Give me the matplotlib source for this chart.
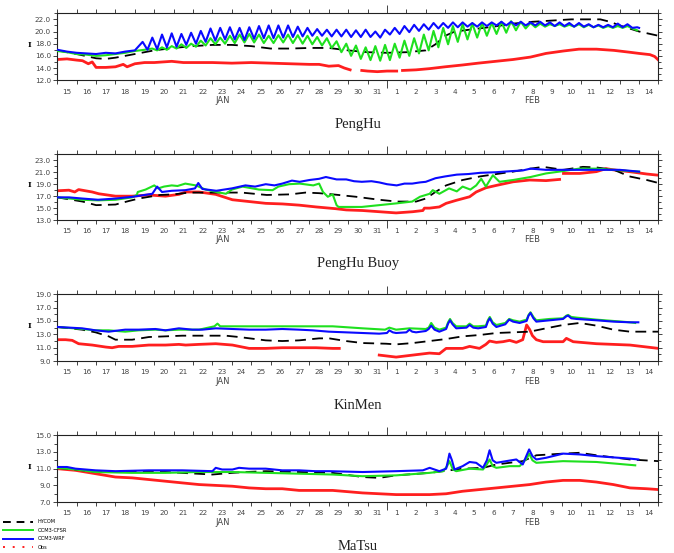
#!/usr/bin/env python3
"""Four-station SST comparison: HYCOM, OCM3-CFSR, OCM3-WRF and observations."""

import numpy as np
import matplotlib
matplotlib.use("Agg")
import matplotlib.pyplot as plt
from matplotlib.lines import Line2D

# x axis: days since 15 Jan 00:00 (15 Jan .. 14 Feb)
DAY_LABELS = [str(d) for d in range(15, 32)] + [str(d) for d in range(1, 15)]
MONTHS = ["JAN", "FEB"]
MONTH_POS = [8.5, 24.5]
STATIONS = ["PengHu", "PengHu Buoy", "KinMen", "MaTsu"]
YLIMS = [(12, 23), (13, 24), (9, 19), (7, 15)]
YTICKS = [np.arange(12, 23, 2.0), np.arange(13, 24, 2.0),
          np.arange(9, 20, 2.0), np.arange(7, 16, 2.0)]

# ---------------- PengHu ----------------
p1_hycom_t = [0, 1, 2, 2.5, 3, 4, 5, 6, 7, 8, 9, 10, 11, 12, 13, 14, 15, 16, 17, 18, 19,
              19.5, 20, 20.5, 21.5, 22.5, 23.5, 24.5, 25.5, 26.5, 27.5, 28, 28.5, 29, 29.5, 30, 31]
p1_hycom_v = [16.9, 16.3, 15.6, 15.5, 15.7, 16.3, 16.9, 17.3, 17.6, 17.8, 17.8, 17.6, 17.2, 17.2,
              17.3, 17.3, 16.9, 16.6, 16.5, 16.6, 16.9, 17.9, 19.3, 20.0, 20.4, 20.8, 21.3, 21.6,
              21.8, 22.0, 22.0, 22.0, 21.6, 21.0, 20.5, 20.0, 19.3]

p1_wrf_t0 = [0, 0.5, 1, 1.5, 2, 2.5, 3, 3.5, 4.0]
p1_wrf_v0 = [17.0, 16.7, 16.5, 16.4, 16.3, 16.5, 16.4, 16.7, 16.9]
p1_wrf_hi = [18.3, 19.0, 19.5, 19.7, 19.6, 19.8, 20.1, 20.5, 20.6, 20.7,
             20.6, 20.7, 20.9, 21.0, 21.0, 21.0, 20.8, 20.6, 20.4, 20.3,
             20.3, 20.3, 20.2, 20.3, 20.0, 20.3, 20.6, 20.9, 21.1, 21.2,
             21.4, 21.4, 21.5, 21.5, 21.4, 21.5, 21.5, 21.6, 21.6, 21.6,
             21.5, 21.6, 21.5, 21.5, 21.4, 21.4, 21.2, 21.1, 21.1, 21.3,
             21.2, 20.7]
p1_wrf_lo = [17.0, 17.1, 17.4, 17.5, 17.8, 18.0, 18.3, 18.5, 18.7, 18.7,
             18.6, 18.8, 18.9, 18.9, 19.0, 19.1, 19.2, 19.3, 19.3, 19.2,
             19.2, 19.1, 19.1, 19.1, 19.0, 19.5, 19.6, 19.9, 20.1, 20.3,
             20.5, 20.6, 20.7, 20.8, 20.8, 20.9, 21.0, 21.0, 21.0, 21.0,
             21.0, 21.0, 20.9, 20.9, 20.8, 20.8, 20.7, 20.7, 20.7, 20.7,
             20.6]

p1_cfsr_t0 = [0, 0.5, 1, 1.5, 2, 2.5, 3, 3.5, 4.0, 4.5]
p1_cfsr_v0 = [16.8, 16.6, 16.3, 16.2, 16.0, 16.1, 16.3, 16.5, 16.8, 17.0]
p1_cfsr_hi = [17.2, 17.4, 17.6, 17.9, 18.0, 18.5, 18.9, 19.0, 19.3, 19.5,
              19.6, 19.5, 19.3, 19.4, 19.5, 19.4, 19.3, 19.1, 18.9, 18.4,
              18.0, 17.7, 17.4, 17.6, 17.8, 18.0, 18.5, 18.9, 19.5, 20.1,
              20.6, 20.9, 21.2, 21.3, 21.4, 21.4, 21.6, 21.7, 21.6, 21.4,
              21.3, 21.2, 21.2, 21.1, 21.2, 21.1, 21.0, 20.9, 20.9, 20.9,
              20.2]
p1_cfsr_lo = [16.9, 17.0, 17.2, 17.3, 17.5, 17.7, 17.9, 18.0, 18.1, 18.2,
              18.2, 18.1, 18.1, 18.2, 18.1, 18.0, 17.9, 17.7, 17.3, 16.6,
              16.0, 15.5, 15.3, 15.2, 15.3, 15.7, 16.0, 16.4, 16.9, 17.4,
              17.9, 18.3, 18.7, 19.0, 19.3, 19.6, 19.8, 20.2, 20.5, 20.7,
              20.8, 20.9, 20.8, 20.8, 20.7, 20.7, 20.6, 20.6, 20.6, 20.5]

p1_obs_t = [0, 0.5, 1.0, 1.3, 1.6, 1.8, 2.0, 2.5, 3.0, 3.4, 3.6, 4.0, 4.5, 5.0, 5.9, 6.5, 7, 8, 9,
            10, 11, 12, 13, 13.5, 14.0, 14.5, 14.8, 15.1, 15.4, 15.7, 16.0, 16.5, 17.0, 17.5,
            17.65, 17.8, 18.5, 19.2, 20, 20.9, 21.7, 22.6, 23.5, 24.4, 25.2, 26.1, 26.9, 27.8,
            28.7, 29.5, 30.0, 30.56, 30.8, 31.0]
p1_obs_v = [15.4, 15.5, 15.3, 15.2, 14.7, 15.0, 14.1, 14.1, 14.2, 14.6, 14.2, 14.7, 14.9, 14.9,
            15.1, 14.9, 14.9, 14.9, 14.8, 14.9, 14.8, 14.7, 14.6, 14.6, 14.3, 14.4, 14.0, 13.7,
            np.nan, 13.6, 13.5, 13.4, 13.5, 13.5, np.nan, 13.6, 13.7, 13.9, 14.2, 14.5, 14.8,
            15.1, 15.4, 15.8, 16.4, 16.8, 17.1, 17.1, 16.9, 16.6, 16.4, 16.2, 15.9, 15.3]

# ---------------- PengHu Buoy ----------------
p2_hycom_t = [0, 1.3, 2.0, 3.0, 3.7, 4.2, 5.3, 6.0, 6.8, 8.2, 9.5, 10.8, 12.0, 12.8, 13.5, 14.2,
              15.4, 16.6, 17.5, 18.5, 19.0, 19.5, 20.05, 20.9, 21.8, 23.5, 24.4, 25.05, 26.1,
              27.1, 27.8, 28.7, 29.5, 30.4, 31.0]
p2_hycom_v = [16.8, 16.1, 15.5, 15.6, 16.2, 16.6, 17.2, 17.3, 17.6, 17.6, 17.6, 17.2, 17.3, 17.6,
              17.5, 17.3, 16.9, 16.4, 16.1, 16.1, 16.6, 17.7, 18.8, 19.7, 20.3, 21.1, 21.6, 21.9,
              21.4, 21.9, 21.8, 21.4, 20.3, 19.7, 19.2]
p2_wrf_t = [0, 0.6, 1.3, 2.1, 3.0, 3.9, 4.5, 4.9, 5.15, 5.4, 5.9, 6.6, 7.1, 7.27, 7.48, 8.2, 9.0,
            9.7, 10.2, 10.75, 11.2, 11.6, 12.1, 12.5, 13.0, 13.5, 13.85, 14.4, 14.9, 15.3, 15.7,
            16.2, 16.6, 17.0, 17.5, 17.9, 18.3, 18.7, 19.0, 19.5, 20.0, 20.6, 21.2, 21.8, 22.6,
            23.5, 24.0, 24.4, 25.2, 26.1, 27, 28, 29, 30]
p2_wrf_v = [16.8, 16.8, 16.6, 16.4, 16.6, 16.9, 17.2, 17.4, 18.6, 17.7, 17.9, 18.0, 18.3, 19.2,
            18.2, 17.9, 18.3, 18.8, 18.6, 19.0, 18.8, 19.1, 19.6, 19.4, 19.7, 19.9, 20.2, 19.8,
            19.8, 19.5, 19.4, 19.5, 19.3, 19.0, 18.8, 19.1, 19.1, 19.3, 19.4, 20.0, 20.3, 20.6,
            20.7, 20.9, 21.0, 21.2, 21.3, 21.6, 21.4, 21.4, 21.4, 21.4, 21.4, 21.1]
p2_cfsr_t = [0, 1.3, 2.1, 3.0, 3.86, 4.1, 4.15, 4.55, 5.0, 5.2, 5.5, 5.9, 6.2, 6.6, 7.14, 7.65,
             8.2, 8.7, 9.0, 9.55, 10.4, 11.1, 11.4, 11.95, 12.5, 13.2, 13.5, 13.7, 13.95, 14.2,
             14.4, 14.5, 15.7, 16.6, 17.5, 18.3, 18.7, 19.2, 19.36, 19.7, 20.2, 20.6, 20.9,
             21.3, 21.6, 21.86, 22.1, 22.46, 22.8, 23.5, 24.4, 25.2, 26.1, 26.9, 27.8, 28.7,
             29.5, 30.0]
p2_cfsr_v = [16.8, 16.4, 16.3, 16.4, 16.8, 17.2, 17.7, 18.1, 18.8, 18.3, 18.6, 18.8, 18.7, 19.1,
             18.8, 18.1, 17.7, 17.4, 18.1, 18.6, 18.1, 18.0, 18.6, 19.0, 19.1, 18.8, 19.1, 17.7,
             16.9, 17.3, 15.5, 15.2, 15.2, 15.5, 15.8, 16.1, 16.9, 17.4, 18.0, 17.4, 18.3, 17.8,
             18.6, 18.1, 18.8, 19.9, 18.6, 20.5, 19.4, 19.7, 20.2, 20.8, 21.2, 21.6, 21.6, 21.4,
             21.2, 21.1]
p2_obs_t = [0, 0.6, 0.9, 1.1, 1.8, 2.14, 3.0, 3.86, 4.72, 5.58, 6.27, 6.62, 7.31, 8.17, 9.03,
            9.89, 10.75, 11.61, 12.47, 13.34, 14.37, 14.9, 15.74, 16.6, 17.47, 18.33, 18.85,
            18.93, 19.2, 19.7, 20.05, 20.57, 21.26, 21.6, 22.1, 22.64, 23.5, 24.36, 25.2, 25.9,
            26.0, 26.1, 26.94, 27.8, 28.3, 28.67, 29.5, 30.4, 31.0]
p2_obs_v = [17.9, 18.0, 17.7, 18.1, 17.7, 17.4, 17.0, 17.0, 17.2, 17.0, 17.3, 17.7, 17.7, 17.3,
            16.4, 16.1, 15.8, 15.7, 15.5, 15.2, 14.9, 14.7, 14.6, 14.4, 14.2, 14.4, 14.6, 15.0,
            15.0, 15.2, 15.8, 16.3, 16.9, 17.7, 18.4, 18.8, 19.4, 19.7, 19.6, 19.8, np.nan,
            20.8, 20.8, 21.1, 21.6, 21.4, 21.1, 20.7, 20.5]

# ---------------- KinMen ----------------
p3_hycom_t = [0, 1.28, 1.97, 2.65, 3.0, 3.86, 4.72, 5.58, 6.44, 7.31, 8.68, 9.37, 10.75, 11.6,
              12.47, 13.5, 14.02, 14.88, 15.74, 16.95, 17.47, 18.33, 19.19, 20.05, 20.9, 21.77,
              22.64, 23.5, 24.36, 25.2, 26.08, 26.94, 27.8, 28.67, 29.53, 31.0]
p3_hycom_v = [14.1, 13.7, 13.3, 12.7, 12.2, 12.2, 12.6, 12.7, 12.8, 12.8, 12.8, 12.6, 12.1, 12.0,
              12.1, 12.4, 12.4, 12.0, 11.7, 11.6, 11.5, 11.7, 12.0, 12.3, 12.7, 12.9, 13.2, 13.3,
              13.4, 13.9, 14.4, 14.7, 14.3, 13.7, 13.4, 13.4]
p3_wrf_t = [0, 1.28, 1.97, 2.65, 3.5, 4.2, 5.06, 5.58, 6.27, 6.96, 7.48, 8.17, 9.03, 9.89, 10.75,
            11.6, 12.47, 13.16, 14.0, 14.88, 15.74, 16.6, 17.0, 17.12, 17.3, 17.47, 18.0, 18.16,
            18.3, 18.5, 19.0, 19.15, 19.28, 19.45, 19.7, 20.05, 20.15, 20.25, 20.38, 20.57,
            21.1, 21.26, 21.45, 21.7, 22.1, 22.2, 22.3, 22.45, 22.64, 23.1, 23.3, 23.5, 23.84,
            24.2, 24.3, 24.4, 24.55, 24.7, 25.39, 26.08, 26.25, 26.34, 26.5, 26.77, 27.8, 28.67,
            29.53, 29.96]
p3_wrf_v = [14.1, 13.9, 13.6, 13.4, 13.7, 13.7, 13.8, 13.6, 13.9, 13.7, 13.7, 13.9, 13.8, 13.7,
            13.7, 13.8, 13.7, 13.6, 13.4, 13.3, 13.2, 13.1, 13.2, 13.6, 13.3, 13.2, 13.3, 13.7,
            13.4, 13.3, 13.5, 13.8, 14.3, 13.7, 13.4, 13.8, 14.6, 15.1, 14.5, 13.9, 14.0, 14.4,
            14.0, 13.9, 14.1, 14.9, 15.4, 14.6, 14.1, 14.5, 15.2, 14.9, 14.7, 15.0, 15.8, 16.2,
            15.4, 14.9, 15.1, 15.3, 15.7, 15.8, 15.4, 15.3, 15.1, 14.9, 14.8, 14.8]
p3_cfsr_t = [0, 1.28, 1.97, 2.65, 3.5, 4.2, 5.06, 5.58, 6.27, 7.31, 8.1, 8.26, 8.4, 9.03, 10.75,
             12.47, 14.2, 15.74, 16.9, 17.12, 17.47, 18.16, 19.0, 19.15, 19.28, 19.45, 19.7,
             20.05, 20.15, 20.25, 20.38, 20.57, 21.1, 21.26, 21.45, 21.7, 22.1, 22.2, 22.3,
             22.45, 22.64, 23.1, 23.3, 23.5, 23.84, 24.2, 24.3, 24.4, 24.55, 24.7, 25.39, 26.08,
             26.25, 26.34, 26.5, 26.77, 27.8, 28.67, 29.53, 29.8]
p3_cfsr_v = [14.1, 13.8, 13.6, 13.6, 13.4, 13.6, 13.7, 13.6, 13.7, 13.7, 14.2, 14.6, 14.2, 14.2,
             14.2, 14.2, 14.2, 13.9, 13.7, 14.0, 13.7, 13.9, 13.8, 14.0, 14.7, 14.0, 13.7, 14.0,
             14.8, 15.3, 14.7, 14.2, 14.2, 14.6, 14.2, 14.2, 14.3, 15.1, 15.6, 14.8, 14.4, 14.7,
             15.3, 15.1, 14.9, 15.2, 15.9, 16.3, 15.6, 15.1, 15.3, 15.4, 15.8, 15.9, 15.6, 15.5,
             15.2, 15.0, 14.8, 14.7]
p3_obs_t = [0, 0.43, 0.77, 1.1, 1.8, 2.5, 2.83, 3.17, 3.86, 4.72, 5.58, 6.27, 6.62, 7.31, 8.17,
            9.03, 9.72, 9.89, 10.75, 11.6, 12.47, 13.34, 14.2, 14.54, 15.0, 16.6, 17.47, 18.33,
            19.19, 19.7, 20.05, 20.9, 21.26, 21.77, 22.1, 22.29, 22.64, 22.98, 23.32, 23.67,
            24.0, 24.2, 24.36, 24.5, 24.7, 25.05, 26.08, 26.25, 26.6, 27.8, 29.53, 31.0]
p3_obs_v = [12.2, 12.2, 12.1, 11.6, 11.4, 11.1, 11.0, 11.2, 11.2, 11.4, 11.4, 11.5, 11.4, 11.5,
            11.6, 11.4, 11.0, 10.9, 10.9, 11.0, 11.0, 11.0, 10.9, 10.9, np.nan, 9.9, 9.6, 9.9,
            10.2, 10.1, 10.9, 10.9, 11.2, 10.9, 11.5, 12.0, 11.8, 11.9, 12.1, 11.8, 12.2, 14.4,
            13.7, 12.8, 12.2, 11.9, 11.9, 12.4, 11.9, 11.6, 11.4, 10.9]

# ---------------- MaTsu ----------------
p4_hycom_t = [0, 2.14, 5.58, 8.0, 9.03, 9.72, 10.75, 12.47, 14.2, 15.74, 16.6, 17.47, 19.2, 20.9,
              21.95, 22.64, 24.0, 24.7, 26.08, 26.94, 27.8, 29.53, 31.0]
p4_hycom_v = [11.1, 10.6, 10.6, 10.3, 10.5, 10.6, 10.7, 10.6, 10.5, 10.0, 9.9, 10.2, 10.5, 11.0,
              11.1, 11.5, 11.9, 12.6, 12.8, 12.9, 12.6, 12.1, 11.9]
p4_wrf_t = [0, 0.5, 0.94, 1.97, 3.0, 4.72, 6.44, 8.0, 8.17, 8.5, 9.03, 9.37, 9.89, 10.75, 11.6,
            12.47, 13.3, 14.02, 15.74, 17.47, 18.85, 19.2, 19.7, 20.05, 20.15, 20.22, 20.35,
            20.48, 20.9, 21.26, 21.6, 21.95, 22.15, 22.29, 22.45, 22.64, 23.15, 23.67, 24.0,
            24.2, 24.33, 24.5, 24.7, 25.2, 26.08, 26.94, 27.8, 29.53, 29.96]
p4_wrf_v = [11.2, 11.2, 11.0, 10.8, 10.7, 10.8, 10.8, 10.7, 11.1, 10.9, 10.9, 11.1, 11.0, 11.0,
            10.8, 10.8, 10.7, 10.7, 10.6, 10.7, 10.8, 11.1, 10.7, 11.0, 12.0, 12.8, 12.0, 10.9,
            11.3, 11.8, 11.7, 11.1, 12.0, 13.2, 12.0, 11.7, 11.9, 12.1, 11.5, 12.6, 13.3, 12.5,
            12.1, 12.3, 12.8, 12.7, 12.5, 12.2, 12.1]
p4_cfsr_t = [0, 0.94, 1.97, 3.86, 5.58, 7.31, 9.03, 10.75, 12.47, 14.2, 15.74, 17.47, 19.2, 19.9,
             20.1, 20.22, 20.4, 20.57, 21.26, 21.95, 22.15, 22.29, 22.45, 22.64, 23.32, 23.84,
             24.2, 24.33, 24.5, 24.7, 26.08, 27.8, 29.8]
p4_cfsr_v = [11.1, 10.9, 10.6, 10.5, 10.5, 10.6, 10.6, 10.5, 10.4, 10.3, 10.1, 10.2, 10.5, 10.7,
             11.3, 11.9, 10.9, 10.7, 11.0, 10.9, 11.5, 12.1, 11.3, 11.1, 11.3, 11.3, 12.2, 12.8,
             12.0, 11.7, 11.9, 11.8, 11.4]
p4_obs_t = [0, 0.94, 1.97, 3.0, 3.86, 4.72, 5.58, 6.44, 7.31, 8.17, 9.03, 9.89, 10.75, 11.6,
            12.47, 14.2, 15.74, 17.47, 19.2, 20.05, 20.9, 21.77, 22.64, 23.5, 24.36, 25.2, 26.08,
            26.94, 27.8, 28.67, 29.53, 30.4, 31.0]
p4_obs_v = [11.0, 10.8, 10.4, 10.0, 9.9, 9.7, 9.5, 9.3, 9.1, 9.0, 8.9, 8.7, 8.6, 8.6, 8.4, 8.4,
            8.1, 7.9, 7.9, 8.0, 8.3, 8.5, 8.7, 8.9, 9.1, 9.4, 9.6, 9.6, 9.4, 9.1, 8.7, 8.6, 8.5]


def tidal(t0, hi, lo):
    """Interleave read-off crest and trough values, one every quarter day."""
    v = np.empty(len(hi) + len(lo))
    v[0::2] = hi
    v[1::2] = lo
    return t0 + 0.25 * np.arange(len(v)), v


wt, wv = tidal(4.4, p1_wrf_hi, p1_wrf_lo)
p1_wrf_t = np.concatenate([p1_wrf_t0, wt, [30.0]])
p1_wrf_v = np.concatenate([p1_wrf_v0, wv, [20.6]])
ct, cv = tidal(4.9, p1_cfsr_hi, p1_cfsr_lo)
p1_cfsr_t = np.concatenate([p1_cfsr_t0, ct])
p1_cfsr_v = np.concatenate([p1_cfsr_v0, cv])

PANELS = [
    (p1_hycom_t, p1_hycom_v, p1_cfsr_t, p1_cfsr_v, p1_wrf_t, p1_wrf_v, p1_obs_t, p1_obs_v),
    (p2_hycom_t, p2_hycom_v, p2_cfsr_t, p2_cfsr_v, p2_wrf_t, p2_wrf_v, p2_obs_t, p2_obs_v),
    (p3_hycom_t, p3_hycom_v, p3_cfsr_t, p3_cfsr_v, p3_wrf_t, p3_wrf_v, p3_obs_t, p3_obs_v),
    (p4_hycom_t, p4_hycom_v, p4_cfsr_t, p4_cfsr_v, p4_wrf_t, p4_wrf_v, p4_obs_t, p4_obs_v),
]

RED, GREEN, BLUE = "#ff1f1f", "#1fe01f", "#0a0aff"
TICK_COL = "#444444"

fig = plt.figure(figsize=(6.74, 5.53), dpi=100)
# axes boxes in figure fraction: left, bottom, width, height
boxes = [(0.085, 0.855, 0.892, 0.121), (0.085, 0.602, 0.892, 0.119),
         (0.085, 0.347, 0.892, 0.121), (0.085, 0.092, 0.892, 0.121)]

for i, box in enumerate(boxes):
    ax = fig.add_axes(box)
    ht, hv, ct, cv, wt, wv, ot, ov = PANELS[i]
    ax.plot(ot, ov, color=RED, lw=2.0, zorder=2)
    ax.plot(ht, hv, color="black", lw=1.3, dashes=(6, 3.5), zorder=3)
    ax.plot(ct, cv, color=GREEN, lw=1.5, zorder=4)
    ax.plot(wt, wv, color=BLUE, lw=1.5, zorder=5)

    ax.set_xlim(0, 31)
    ax.set_ylim(*YLIMS[i])
    ax.set_xticks(np.arange(0, 32))
    ax.set_xticklabels([])
    ax.set_xticks(np.arange(31) + 0.5, minor=True)
    ax.set_xticklabels(DAY_LABELS, minor=True)
    ax.set_yticks(YTICKS[i])
    ax.set_yticklabels([f"{y:.1f}" for y in YTICKS[i]])
    ax.set_yticks(np.arange(YLIMS[i][0], YLIMS[i][1] + 0.01, 1.0), minor=True)

    ax.tick_params(axis="x", which="major", direction="out", length=3, width=0.7,
                   top=True, bottom=True, color=TICK_COL)
    ax.tick_params(axis="x", which="minor", length=0, pad=6, labelsize=5.2,
                   labelcolor=TICK_COL)
    ax.tick_params(axis="y", which="both", direction="out", width=0.7, left=True,
                   right=True, color=TICK_COL, labelsize=5.2, labelcolor=TICK_COL, pad=1.5)
    ax.tick_params(axis="y", which="major", length=3)
    ax.tick_params(axis="y", which="minor", length=2)
    # longer tick at the month boundary (1 Feb)
    for side in (ax.xaxis.get_major_ticks()[17].tick1line,
                 ax.xaxis.get_major_ticks()[17].tick2line):
        side.set_markersize(6)
    for sp in ax.spines.values():
        sp.set_linewidth(0.8)
        sp.set_color("#222222")

    ax.set_ylabel("I", fontsize=5.5, fontweight="bold", rotation=0, family="DejaVu Serif")
    ax.yaxis.set_label_coords(-0.046, 0.47)
    for m, x in zip(MONTHS, MONTH_POS):
        ax.text(x, -0.30, m, transform=ax.get_xaxis_transform(), ha="center", va="center",
                fontsize=6, color=TICK_COL)
    ax.text(0.5, -0.66, STATIONS[i], transform=ax.transAxes, ha="center", va="center",
            fontsize=10.5, family="Liberation Serif", color="#222222")

handles = [Line2D([], [], color="black", lw=1.4, dashes=(4, 3)),
           Line2D([], [], color=GREEN, lw=1.4),
           Line2D([], [], color=BLUE, lw=1.4),
           Line2D([], [], color=RED, lw=1.4, dashes=(1, 4))]
fig.legend(handles, ["HYCOM", "OCM3-CFSR", "OCM3-WRF", "Obs"], loc="lower left",
           bbox_to_anchor=(0.0, 0.0), fontsize=3.6, frameon=False, handlelength=6,
           handletextpad=0.9, labelspacing=0.7, borderpad=0.15)

plt.savefig("out.png", dpi=100)
